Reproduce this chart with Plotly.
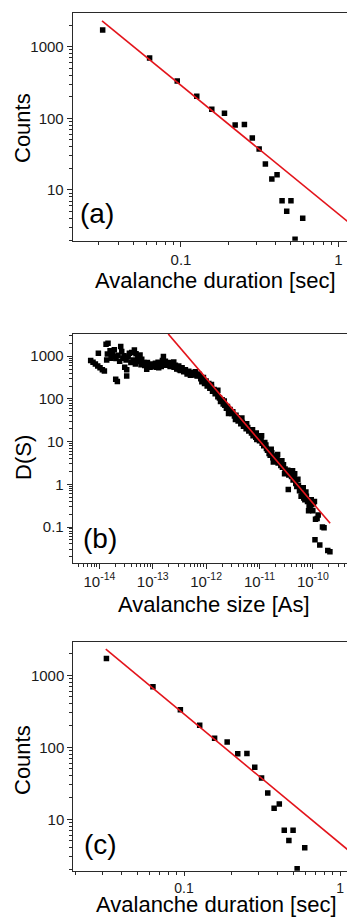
import plotly.graph_objects as go

# ---------------- data ----------------
# Panels (a) and (c): avalanche duration distribution (same data shown twice)
duration_sec = [0.0318, 0.0632, 0.0947, 0.126, 0.157, 0.189, 0.221, 0.253, 0.284,
                0.314, 0.344, 0.378, 0.408, 0.439, 0.470, 0.500, 0.531, 0.594]
duration_counts = [1710, 695, 332, 203, 134, 118, 81, 82, 53,
                   37.4, 23.1, 14.2, 16.3, 7.05, 5.06, 7.05, 2.06, 4.04]
duration_fit_x = [0.0315, 1.17]
duration_fit_y = [2300, 3.5]

# Panel (b): avalanche size distribution, values given as log10
size_log10 = [
    -14.163, -14.119, -14.075, -14.031, -13.988, -13.944, -13.906, -14.019, -13.875, -13.838,
    -13.863, -13.800, -13.756, -13.725, -13.688, -13.694, -13.663, -13.600, -13.581, -13.538,
    -13.500, -13.525, -13.488, -13.438, -13.488, -13.394, -13.344, -13.313, -13.363, -13.300,
    -13.325, -13.238, -13.206, -13.163, -13.113, -13.081, -13.050, -13.013, -12.975, -12.950,
    -12.913, -12.888, -12.850, -12.819, -12.800, -12.763, -12.738, -12.700, -12.675, -12.638,
    -12.606, -12.575, -12.544, -12.513, -12.481, -12.450, -12.419, -12.388, -12.356, -12.325,
    -12.294, -12.263, -12.231, -12.200, -12.169, -12.138,
    -13.85, -13.78, -13.72, -13.65, -13.62, -13.56, -13.46, -13.41, -13.28, -13.22,
    -13.15, -13.10, -13.03, -12.98, -12.93, -12.90, -12.84, -12.78, -12.72, -12.66,
    -12.60, -12.55, -12.50, -12.46, -12.40, -12.35, -12.30, -12.25, -12.20, -12.15,
    -12.12, -12.10, -12.08, -12.05, -12.03, -12.00, -11.98, -11.95, -11.93, -11.90,
    -11.88, -11.85, -11.83, -11.80, -11.78, -11.75, -11.73, -11.70, -11.68, -11.65,
    -11.62, -11.60, -11.57, -11.55, -11.52, -11.50, -11.47, -11.45, -11.42, -11.40,
    -11.37, -11.35, -11.32, -11.30, -11.27, -11.25, -11.22, -11.20, -11.17, -11.15,
    -11.12, -11.10, -11.07, -11.05, -11.02, -11.00, -10.97, -10.95, -10.92, -10.90,
    -10.87, -10.85, -10.82, -10.80, -10.77, -10.75, -10.72, -10.70, -10.67, -10.65,
    -10.62, -10.60, -10.57, -10.55, -10.52, -10.50, -10.47, -10.46, -10.45, -10.42,
    -10.40, -10.37, -10.35, -10.32, -10.30, -10.27, -10.25, -10.22, -10.20, -10.17,
    -10.15, -10.12, -10.10, -10.07, -10.05, -10.02, -10.00, -9.97, -9.95, -9.92,
    -9.90, -9.96, -9.87, -9.82, -9.79, -9.72, -9.68,
    -11.90, -11.78, -11.66, -11.58, -11.44, -11.33, -11.24, -11.13, -11.06, -10.96,
    -10.88, -10.78, -10.74, -10.66, -10.58, -10.53, -10.44, -10.38, -10.34, -10.28,
    -10.18, -10.13, -10.08, -10.03, -9.99,
]
density_log10 = [
    2.898, 2.859, 2.820, 2.773, 2.727, 2.680, 2.656, 3.070, 3.281, 3.305,
    2.914, 3.125, 3.070, 2.992, 2.945, 2.461, 2.406, 3.227, 3.109, 3.008,
    2.914, 2.742, 2.680, 3.070, 2.539, 3.086, 3.148, 3.055, 2.914, 2.875,
    2.820, 3.031, 2.930, 2.852, 2.695, 2.797, 2.742, 2.820, 2.758, 2.836,
    2.789, 2.727, 2.820, 2.898, 2.992, 2.883, 2.789, 2.852, 2.758, 2.820,
    2.867, 2.789, 2.711, 2.773, 2.664, 2.727, 2.633, 2.680, 2.586, 2.648,
    2.555, 2.617, 2.570, 2.633, 2.539, 2.586,
    3.05, 2.95, 3.15, 3.02, 2.88, 2.95, 2.98, 2.85, 2.95, 2.80,
    2.78, 2.85, 2.76, 2.80, 2.74, 2.86, 2.76, 2.80, 2.82, 2.78,
    2.74, 2.70, 2.68, 2.70, 2.66, 2.62, 2.60, 2.58, 2.56, 2.55,
    2.55, 2.47, 2.40, 2.50, 2.36, 2.42, 2.30, 2.36, 2.25, 2.28,
    2.18, 2.22, 2.12, 2.15, 2.05, 2.02, 1.94, 1.98, 1.88, 1.85,
    1.78, 1.82, 1.72, 1.75, 1.66, 1.70, 1.60, 1.52, 1.56, 1.48,
    1.50, 1.42, 1.45, 1.36, 1.40, 1.30, 1.33, 1.25, 1.28, 1.20,
    1.14, 1.18, 1.10, 1.05, 1.12, 1.02, 1.06, 0.96, 0.90, 0.98,
    0.84, 0.80, 0.72, 0.68, 0.74, 0.62, 0.66, 0.56, 0.60, 0.50,
    0.54, 0.44, 0.40, 0.46, 0.36, 0.30, 0.33, -0.12, 0.22, 0.28,
    0.18, 0.10, 0.14, 0.02, -0.05, -0.02, -0.15, -0.28, -0.22, -0.32,
    -0.36, -0.28, -0.40, -0.52, -0.58, -0.48, -0.62, -0.40, -0.82, -0.80,
    -0.72, -1.30, -1.42, -1.00, -1.02, -1.55, -1.58,
    2.34, 2.20, 1.95, 1.66, 1.62, 1.55, 1.42, 1.28, 1.20, 1.14,
    0.92, 0.82, 0.52, 0.70, 0.55, 0.25, 0.30, 0.32, 0.25, 0.12,
    -0.08, -0.18, -0.62, -0.36, -0.45,
]
size_fit_x = [1.95e-13, 2.11e-10]
size_fit_y = [3330, 0.122]

# tick labels
dur_x_ticks = [0.1, 1]
dur_x_text = ["0.1", "1"]
dur_y_ticks = [10, 100, 1000]
dur_y_text = ["10", "100", "1000"]
size_x_ticks = [1e-14, 1e-13, 1e-12, 1e-11, 1e-10]
size_x_text = ["10<sup>-14</sup>", "10<sup>-13</sup>", "10<sup>-12</sup>",
               "10<sup>-11</sup>", "10<sup>-10</sup>"]
size_y_ticks = [0.1, 1, 10, 100, 1000]
size_y_text = ["0.1", "1", "10", "100", "1000"]

# ---------------- figure ----------------
# the page body has an 8 px default margin, so the figure starts at (8, 8)
OFF = 8
W, H = 355 - OFF, 917 - OFF
FONT = "Liberation Sans, Arial, Helvetica, sans-serif"
RED = "#e3141b"
AXC = "#2a2a2a"


def px(x):
    return (x - OFF) / W


def py(y):
    return 1 - (y - OFF) / H


def minor_vals(e0, e1):
    return [m * 10.0 ** e for e in range(e0, e1) for m in range(2, 10)]


fig = go.Figure()

marker = dict(symbol="square", size=5.5, color="black", line=dict(width=0))

# panel (a)
fig.add_trace(go.Scatter(x=duration_sec, y=duration_counts, mode="markers", marker=marker,
                         xaxis="x", yaxis="y", showlegend=False))
fig.add_trace(go.Scatter(x=duration_fit_x, y=duration_fit_y, mode="lines",
                         line=dict(color=RED, width=1.6), xaxis="x", yaxis="y", showlegend=False))
# panel (b)
fig.add_trace(go.Scatter(x=[10 ** v for v in size_log10], y=[10 ** v for v in density_log10],
                         mode="markers", marker=marker, xaxis="x2", yaxis="y2", showlegend=False))
fig.add_trace(go.Scatter(x=size_fit_x, y=size_fit_y, mode="lines",
                         line=dict(color=RED, width=1.6), xaxis="x2", yaxis="y2", showlegend=False))
# panel (c)
fig.add_trace(go.Scatter(x=duration_sec, y=duration_counts, mode="markers", marker=marker,
                         xaxis="x3", yaxis="y3", showlegend=False))
fig.add_trace(go.Scatter(x=duration_fit_x, y=duration_fit_y, mode="lines",
                         line=dict(color=RED, width=1.6), xaxis="x3", yaxis="y3", showlegend=False))


def axis(domain, rng, tickvals, ticktext, minor, anchor, mirror, ticklen=5, fsize=15):
    return dict(
        type="log", domain=domain, range=rng, anchor=anchor,
        tickmode="array", tickvals=tickvals, ticktext=ticktext,
        showline=True, linecolor=AXC, linewidth=1, mirror=mirror,
        ticks="outside", ticklen=ticklen, tickwidth=1, tickcolor=AXC,
        minor=dict(tickmode="array", tickvals=minor, ticks="outside", ticklen=3,
                   tickwidth=1, tickcolor=AXC, showgrid=False),
        showgrid=False, zeroline=False,
        tickfont=dict(family=FONT, size=fsize, color="#1a1a1a"),
    )


fig.update_layout(
    width=W, height=H,
    margin=dict(l=0, r=0, t=0, b=0),
    paper_bgcolor="white", plot_bgcolor="white",
    xaxis=axis([px(72.7), 1], [-1.688, 0.106], dur_x_ticks, dur_x_text,
               minor_vals(-2, 1), "y", True),
    yaxis=axis([py(240.7), py(13.3)], [0.292, 3.466], dur_y_ticks, dur_y_text,
               minor_vals(0, 4), "x", False),
    xaxis2=axis([px(72.7), 1], [-14.5, -9.21], size_x_ticks, size_x_text,
                minor_vals(-15, -9), "y2", True),
    yaxis2=axis([py(562.7), py(334)], [-1.836, 3.52], size_y_ticks, size_y_text,
                minor_vals(-2, 4), "x2", False),
    xaxis3=axis([px(73.3), 1], [-1.710, 0.096], dur_x_ticks, dur_x_text,
                minor_vals(-2, 1), "y3", True, ticklen=4, fsize=14),
    yaxis3=axis([py(870.7), py(642.3)], [0.286, 3.458], dur_y_ticks, dur_y_text,
                minor_vals(0, 4), "x3", False),
)

annots = [
    # x titles
    ("Avalanche duration [sec]", 215, 280, 0, 22),
    ("Avalanche size [As]", 214, 604, 0, 22),
    ("Avalanche duration [sec]", 216, 904, 0, 22),
    # y titles
    ("Counts", 22, 128, -90, 22),
    ("D(S)", 23, 458, -90, 22),
    ("Counts", 22, 760, -90, 22),
    # panel labels
    ("(a)", 97, 213, 0, 28),
    ("(b)", 100, 538, 0, 28),
    ("(c)", 100, 844, 0, 28),
]
for text, x, y, ang, size in annots:
    fig.add_annotation(text=text, x=px(x), y=py(y), xref="paper", yref="paper",
                       xanchor="center", yanchor="middle", showarrow=False,
                       textangle=ang, font=dict(family=FONT, size=size, color="black"))

fig.write_html("out.html")
